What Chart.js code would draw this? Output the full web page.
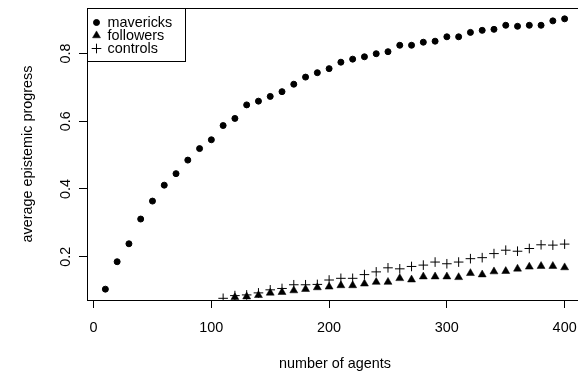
<!DOCTYPE html>
<html>
<head>
<meta charset="utf-8">
<title>average epistemic progress</title>
<script src="https://cdn.jsdelivr.net/npm/chart.js@4.4.1/dist/chart.umd.min.js"></script>
<style>
    html, body { margin: 0; padding: 0; background: #fff; overflow: hidden; }
    #wrap { position: relative; width: 590px; height: 371px; }
</style>
</head>
<body>
<div id="wrap"><canvas id="progressChart"></canvas></div>
<script>
// number of agents (x)
const agents = [10, 20, 30, 40, 50, 60, 70, 80, 90, 100,
                110, 120, 130, 140, 150, 160, 170, 180, 190, 200,
                210, 220, 230, 240, 250, 260, 270, 280, 290, 300,
                310, 320, 330, 340, 350, 360, 370, 380, 390, 400];

const mavericks = [0.104, 0.185, 0.238, 0.311, 0.364, 0.411, 0.445, 0.485, 0.519, 0.545,
                   0.587, 0.608, 0.648, 0.659, 0.673, 0.687, 0.709, 0.730, 0.743, 0.755,
                   0.774, 0.783, 0.790, 0.799, 0.805, 0.824, 0.824, 0.833, 0.836, 0.849,
                   0.849, 0.862, 0.868, 0.871, 0.883, 0.880, 0.883, 0.883, 0.896, 0.902];

// below the plotted range for small groups -> left out
const followers = [null, null, null, null, null, null, null, null, null, null,
                   null, 0.080, 0.082, 0.086, 0.093, 0.095, 0.100, 0.104, 0.109, 0.111,
                   0.115, 0.115, 0.120, 0.125, 0.125, 0.136, 0.132, 0.141, 0.141, 0.141,
                   0.139, 0.151, 0.147, 0.156, 0.157, 0.164, 0.170, 0.172, 0.172, 0.168];

const controls = [null, null, null, null, null, null, null, null, null, null,
                  0.077, 0.085, 0.087, 0.093, 0.102, 0.106, 0.117, 0.117, 0.118, 0.131,
                  0.136, 0.136, 0.147, 0.155, 0.167, 0.164, 0.171, 0.175, 0.184, 0.179,
                  0.184, 0.194, 0.197, 0.209, 0.219, 0.216, 0.224, 0.235, 0.234, 0.237];

const seriesLabels = ['mavericks', 'followers', 'controls'];
const xTicks = [0, 100, 200, 300, 400];
const yTicks = [0.2, 0.4, 0.6, 0.8];
const xRange = [-5.6, 415.6];
const yRange = [0.072, 0.934];

document.addEventListener("DOMContentLoaded", () => {
    const FONT = { family: "'Liberation Sans', Arial, Helvetica, sans-serif", size: 14.4 };

    const toPoints = (values) => agents
        .map((a, i) => ({ x: a, y: values[i] }))
        .filter(p => p.y !== null);

    // === plot box + legend drawn on top, R style ===
    const boxAndLegend = {
        id: 'boxAndLegend',
        afterDraw(chart) {
            const { ctx, chartArea } = chart;
            const x0 = Math.round(chartArea.left) + 0.5;
            const y0 = Math.round(chartArea.top) + 0.5;
            ctx.save();
            ctx.strokeStyle = '#000';
            ctx.lineWidth = 1;
            ctx.strokeRect(x0, y0,
                Math.round(chartArea.right - chartArea.left),
                Math.round(chartArea.bottom - chartArea.top));

            // legend box
            ctx.fillStyle = '#fff';
            ctx.fillRect(x0, y0, 98, 53);
            ctx.strokeRect(x0, y0, 98, 53);

            ctx.font = `${FONT.size}px ${FONT.family}`;
            ctx.textBaseline = 'middle';
            ctx.textAlign = 'left';
            chart.data.datasets.forEach((ds, i) => {
                const y = y0 + 14 + i * 13;
                ctx.fillStyle = '#000';
                ctx.strokeStyle = '#000';
                ctx.lineWidth = ds.borderWidth;
                Chart.helpers.drawPoint(ctx, {
                    pointStyle: ds.pointStyle,
                    radius: ds.pointRadius,
                    borderWidth: ds.borderWidth,
                    rotation: 0
                }, x0 + 9, y);
                ctx.fillStyle = '#000';
                ctx.fillText(ds.label, x0 + 20, y + 1);
            });
            ctx.restore();
        }
    };

    const ctx = document.getElementById('progressChart');
    new Chart(ctx, {
        type: 'scatter',
        data: {
            datasets: [
                {
                    label: seriesLabels[0],
                    data: toPoints(mavericks),
                    pointStyle: 'circle',
                    pointRadius: 3,
                    borderWidth: 1,
                    borderColor: '#000',
                    backgroundColor: '#000'
                },
                {
                    label: seriesLabels[1],
                    data: toPoints(followers),
                    pointStyle: 'triangle',
                    pointRadius: 4.6,
                    borderWidth: 0.5,
                    borderColor: '#000',
                    backgroundColor: '#000'
                },
                {
                    label: seriesLabels[2],
                    data: toPoints(controls),
                    pointStyle: 'cross',
                    pointRadius: 4.8,
                    borderWidth: 1,
                    borderColor: '#000',
                    backgroundColor: '#000'
                }
            ]
        },
        options: {
            responsive: true,
            maintainAspectRatio: false,
            animation: false,
            layout: { padding: { top: 8, right: 7, left: 0, bottom: 0 } },
            plugins: {
                legend: { display: false },
                tooltip: { enabled: false }
            },
            elements: { point: { hoverRadius: 4 } },
            scales: {
                x: {
                    type: 'linear',
                    min: xRange[0],
                    max: xRange[1],
                    afterBuildTicks: (scale) => { scale.ticks = xTicks.map(v => ({ value: v })); },
                    afterFit: (scale) => {
                        scale.height = 71;
                        scale.paddingLeft = 0;
                        scale.paddingRight = 0;
                    },
                    grid: {
                        drawOnChartArea: false,
                        drawTicks: true,
                        tickLength: 8,
                        color: '#000',
                        lineWidth: 1
                    },
                    border: { display: true, color: '#000', width: 1 },
                    ticks: {
                        color: '#000',
                        font: FONT,
                        padding: 11,
                        maxRotation: 0,
                        minRotation: 0
                    },
                    title: {
                        display: true,
                        text: 'number of agents',
                        color: '#000',
                        font: FONT,
                        padding: { top: 0, bottom: -1.5 }
                    }
                },
                y: {
                    type: 'linear',
                    min: yRange[0],
                    max: yRange[1],
                    afterBuildTicks: (scale) => { scale.ticks = yTicks.map(v => ({ value: v })); },
                    afterFit: (scale) => {
                        scale.width = 87;
                        scale.paddingTop = 0;
                        scale.paddingBottom = 0;
                    },
                    grid: {
                        drawOnChartArea: false,
                        drawTicks: true,
                        tickLength: 8,
                        color: '#000',
                        lineWidth: 1
                    },
                    border: { display: true, color: '#000', width: 1 },
                    ticks: {
                        color: '#000',
                        font: FONT,
                        padding: 3,
                        crossAlign: 'center',
                        minRotation: 90,
                        maxRotation: 90,
                        callback: (v) => v.toFixed(1)
                    },
                    title: {
                        display: true,
                        text: 'average epistemic progress',
                        color: '#000',
                        font: FONT,
                        padding: { top: 19, bottom: 0 }
                    }
                }
            }
        },
        plugins: [boxAndLegend]
    });
});
</script>
</body>
</html>
